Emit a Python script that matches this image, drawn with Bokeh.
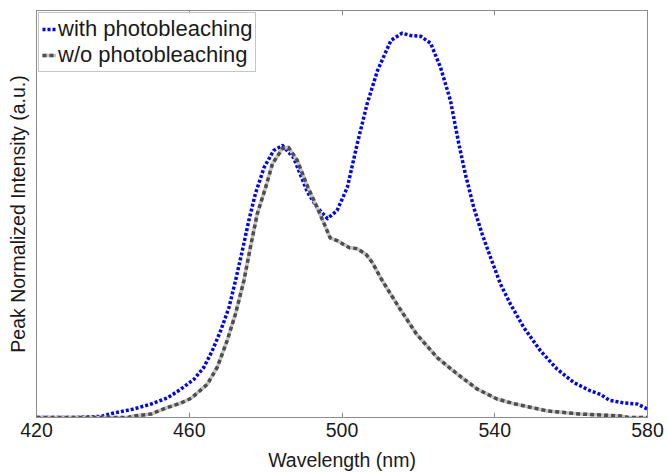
from bokeh.plotting import figure
from bokeh.models import Range1d, LinearAxis, Legend, LegendItem, FixedTicker
from bokeh.embed import file_html
from bokeh.resources import INLINE

# ---- data ----
wl_with = [420, 430, 437, 440, 445.4, 450, 454.3, 457.7, 461.2, 463.8, 466, 468.2, 470.4,
           472.1, 473.9, 475.6, 477.3, 479.6, 482.1, 484.4, 487.3, 489, 491, 493.5, 496.2,
           498.7, 501.4, 504, 506.6, 509.3, 512.8, 515.7, 518, 520.6, 523.2, 525.8, 528.4,
           530.6, 532.3, 534.5, 536.7, 538.9, 541.5, 544.1, 547.6, 552, 556.3, 560.7, 565.1,
           567.7, 570, 573.7, 577.3, 580]
int_with = [0, 0, 0.003, 0.011, 0.022, 0.035, 0.051, 0.073, 0.099, 0.130, 0.173, 0.225, 0.286,
            0.355, 0.434, 0.512, 0.581, 0.65, 0.694, 0.707, 0.676, 0.634, 0.585, 0.546, 0.517,
            0.538, 0.598, 0.712, 0.816, 0.902, 0.98, 0.999, 0.993, 0.991, 0.973, 0.91, 0.824,
            0.711, 0.633, 0.546, 0.477, 0.416, 0.347, 0.295, 0.234, 0.173, 0.126, 0.091, 0.069,
            0.060, 0.045, 0.038, 0.035, 0.022]

wl_without = [420, 430, 444, 445, 450, 454, 457.7, 460.5, 464.7, 467.3, 469.9, 472.1, 474.3,
              476, 477.8, 480, 481.8, 484.4, 486, 488.3, 491, 493.5, 496.9, 498.7, 502, 504,
              506.4, 508, 510.4, 515, 519.5, 525, 530.2, 535.4, 540.6, 545, 553.8, 562.4, 573,
              575, 580]
int_without = [0, 0, 0, 0.003, 0.009, 0.025, 0.037, 0.05, 0.086, 0.130, 0.199, 0.269, 0.355,
               0.442, 0.529, 0.598, 0.66, 0.699, 0.702, 0.668, 0.60, 0.546, 0.467, 0.46, 0.441,
               0.439, 0.423, 0.402, 0.358, 0.285, 0.217, 0.155, 0.113, 0.074, 0.048, 0.036,
               0.017, 0.009, 0.004, 0, 0]

x_ticks = [420, 460, 500, 540, 580]
labels = ["with photobleaching", "w/o photobleaching"]

FONT = "Liberation Sans"
AXIS_COL = "#8c8c8c"
TEXT_COL = "#1a1a1a"

p = figure(frame_width=611, frame_height=407, output_backend="svg", toolbar_location=None,
           x_range=Range1d(420, 580), y_range=Range1d(0, 1.058),
           min_border_left=36, min_border_top=10, min_border_right=21, min_border_bottom=55,
           background_fill_color="white", border_fill_color="white")
p.outline_line_color = AXIS_COL
p.outline_line_width = 1
p.xgrid.visible = False
p.ygrid.visible = False

# bottom axis
xa = p.xaxis[0]
xa.ticker = FixedTicker(ticks=x_ticks)
xa.axis_label = "Wavelength (nm)"
xa.axis_label_text_font = FONT
xa.axis_label_text_font_style = "normal"
xa.axis_label_text_font_size = "19.5px"
xa.axis_label_text_color = TEXT_COL
xa.axis_label_standoff = 9
xa.major_label_text_font = FONT
xa.major_label_text_font_size = "19.5px"
xa.major_label_text_color = TEXT_COL
xa.major_label_standoff = 5
xa.axis_line_color = AXIS_COL
xa.major_tick_line_color = AXIS_COL
xa.major_tick_in = 5
xa.major_tick_out = 0
xa.minor_tick_line_color = None

# left axis
ya = p.yaxis[0]
ya.ticker = FixedTicker(ticks=[])
ya.axis_label = "Peak Normalized Intensity (a.u.)"
ya.axis_label_text_font = FONT
ya.axis_label_text_font_style = "normal"
ya.axis_label_text_font_size = "19.5px"
ya.axis_label_text_color = TEXT_COL
ya.axis_label_standoff = 8
ya.axis_line_color = AXIS_COL
ya.major_tick_line_color = None
ya.minor_tick_line_color = None
ya.major_label_text_color = None

# top axis with inward ticks, no labels
ta = LinearAxis(ticker=FixedTicker(ticks=x_ticks), major_label_text_font_size="0px",
                major_label_text_color=None,
                major_tick_in=5, major_tick_out=0, major_label_standoff=0,
                axis_line_color=AXIS_COL, major_tick_line_color=AXIS_COL,
                minor_tick_line_color=None)
p.add_layout(ta, "above")

r_blue = p.line(wl_with, int_with, line_color="#0000ff", line_width=3.5, line_dash="3 2",
                line_join="round")
r_gray_bg = p.line(wl_without, int_without, line_color="#c4c4c4", line_width=3.5,
                   line_join="round")
r_gray = p.line(wl_without, int_without, line_color="#4d4d4d", line_width=3.5, line_dash="4 3",
                line_join="round")

legend = Legend(items=[LegendItem(label=labels[0], renderers=[r_blue]),
                       LegendItem(label=labels[1], renderers=[r_gray_bg, r_gray])],
                location="top_left", margin=2, padding=3, spacing=0,
                label_text_font=FONT, label_text_font_size="22px", label_text_color=TEXT_COL,
                label_standoff=2, glyph_width=14, glyph_height=24, label_height=24,
                border_line_color=AXIS_COL, border_line_width=1,
                background_fill_color="white", background_fill_alpha=1)
p.add_layout(legend, "center")

open("out.html", "w").write(file_html(p, INLINE))
